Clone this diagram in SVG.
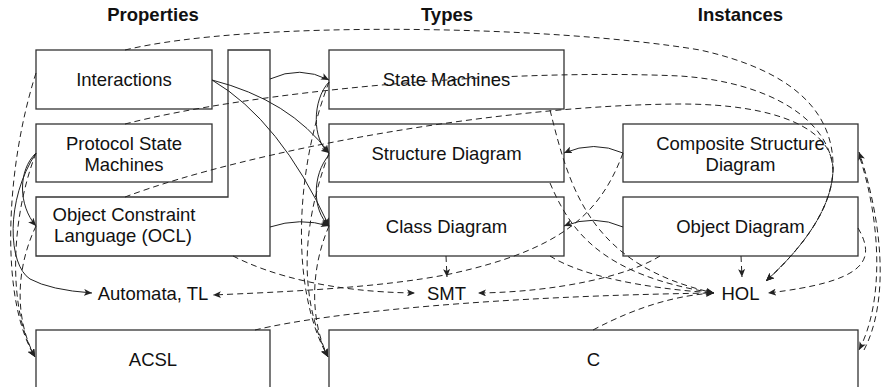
<svg xmlns="http://www.w3.org/2000/svg" width="881" height="387" viewBox="0 0 881 387">
<style>
.box{fill:#fff;stroke:#333;stroke-width:1.3}
.t{font-family:"Liberation Sans",Arial,sans-serif;font-size:18.5px;fill:#111;text-anchor:middle}
.h{font-family:"Liberation Sans",Arial,sans-serif;font-size:18.5px;font-weight:bold;fill:#111;text-anchor:middle}
.s{fill:none;stroke:#222;stroke-width:1;marker-end:url(#ah)}
.d{fill:none;stroke:#222;stroke-width:1;stroke-dasharray:6,4;marker-end:url(#ah)}
</style>
<defs>
<marker id="ah" markerUnits="userSpaceOnUse" markerWidth="9" markerHeight="7" refX="8" refY="3.5" orient="auto">
<path d="M0,0 L8,3.5 L0,7 L2,3.5 Z" fill="#222"/>
</marker>
</defs>
<g id="headers">
<text class="h" x="153" y="21">Properties</text>
<text class="h" x="447" y="21">Types</text>
<text class="h" x="740.5" y="21">Instances</text>
</g>
<g id="interactions"><rect class="box" x="36" y="50" width="176" height="59"/><text class="t" x="124" y="86">Interactions</text></g>
<g id="psm"><rect class="box" x="36" y="124" width="176" height="58"/><text class="t" x="124" y="150">Protocol State</text><text class="t" x="124" y="171">Machines</text></g>
<g id="ocl"><path class="box" d="M36,197 H228 V50 H270 V256 H36 Z"/><text class="t" x="124" y="221">Object Constraint</text><text class="t" x="123" y="242">Language (OCL)</text></g>
<g id="statemachines"><rect class="box" x="329" y="50" width="235" height="59"/><text class="t" x="446.5" y="86">State Machines</text></g>
<g id="structure"><rect class="box" x="329" y="124" width="235" height="58"/><text class="t" x="446.5" y="160">Structure Diagram</text></g>
<g id="class"><rect class="box" x="329" y="197" width="235" height="59"/><text class="t" x="446.5" y="233">Class Diagram</text></g>
<g id="composite"><rect class="box" x="623" y="124" width="235" height="58"/><text class="t" x="740.5" y="150">Composite Structure</text><text class="t" x="740.5" y="171">Diagram</text></g>
<g id="object"><rect class="box" x="623" y="197" width="235" height="59"/><text class="t" x="740.5" y="233">Object Diagram</text></g>
<g id="automata"><text class="t" x="153" y="300">Automata, TL</text></g>
<g id="smt"><text class="t" x="446.5" y="300">SMT</text></g>
<g id="hol"><text class="t" x="740.5" y="300">HOL</text></g>
<g id="acsl"><rect class="box" x="36" y="330" width="234" height="60"/><text class="t" x="153" y="365.5">ACSL</text></g>
<g id="c"><rect class="box" x="329" y="330" width="529" height="60"/><text class="t" x="593.5" y="365.5">C</text></g>
<g id="connectors">
<!-- solid -->
<path class="s" d="M212,80 Q290,100 329,153"/>
<path class="s" d="M212,80 Q280,120 329,226"/>
<path class="s" d="M270,79 Q300,65 329,80"/>
<path class="s" d="M270,227 Q300,217 329,226"/>
<path class="s" d="M329,82 C312,100 312,140 329,153"/>
<path class="s" d="M329,155 C312,175 312,210 329,226"/>
<path class="s" d="M623,153 Q594,140 564,153"/>
<path class="s" d="M623,227 Q594,214 564,226"/>
<path class="s" d="M36,153 C18,170 18,205 36,226"/>
<path class="s" d="M36,153 C5,200 8,265 30,279 Q50,290 92,293"/>
<!-- dashed to HOL from top -->
<path class="d" d="M125,50 C250,20 550,25 700,50 C790,70 835,110 833,170 C832,210 800,250 766,281"/>
<path class="d" d="M125,124 C250,92 500,68 680,76 C770,82 830,120 833,170 C832,210 800,250 766,281"/>
<path class="d" d="M125,197 C250,150 500,105 680,104 C780,104 833,130 833,170 C832,210 800,250 766,281"/>
<!-- dashed to Automata -->
<path class="d" d="M623,153 C600,215 560,250 450,274 C380,288 280,292 213,295"/>
<!-- dashed to SMT -->
<path class="d" d="M446,256 L447,277"/>
<path class="d" d="M233,256 C270,275 330,292 415,293"/>
<path class="d" d="M660,256 C630,275 560,292 478,293"/>
<!-- dashed to HOL -->
<path class="d" d="M741,256 L742,277"/>
<path class="d" d="M550,110 C570,190 590,265 714,293"/>
<path class="d" d="M550,183 C570,230 600,275 714,293"/>
<path class="d" d="M550,256 C580,275 640,288 714,293"/>
<path class="d" d="M255,330 C330,312 500,296 714,293"/>
<path class="d" d="M593,330 C640,305 680,295 714,293"/>
<path class="d" d="M858,228 C878,262 862,282 768,293"/>
<!-- dashed to ACSL -->
<path class="d" d="M36,73 C5,170 0,300 35,357"/>
<path class="d" d="M36,153 C10,220 8,310 35,357"/>
<path class="d" d="M36,226 C15,270 15,320 35,357"/>
<!-- dashed to C -->
<path class="d" d="M329,82 C295,170 290,290 328,357"/>
<path class="d" d="M329,153 C300,230 300,300 328,357"/>
<path class="d" d="M329,226 C310,270 310,320 328,357"/>
<!-- right side -->
<path class="d" d="M860,158 C880,220 885,300 859,350"/>
<path class="d" d="M864,350 C890,300 882,220 859,152"/>
</g>
</svg>
